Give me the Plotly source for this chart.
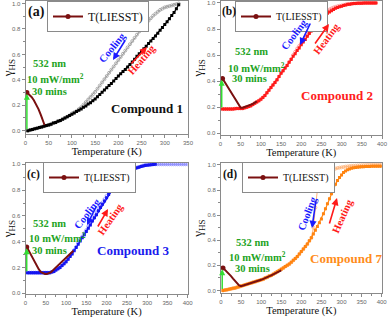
import plotly.graph_objects as go

# ---------------- data ----------------
# (a) Compound 1
a_heat_T = list(range(5, 335, 5))
a_heat_v = [0.0, 0.005, 0.01, 0.015, 0.02, 0.025, 0.03, 0.035, 0.04, 0.045,
            0.05, 0.06, 0.065, 0.075, 0.08, 0.09, 0.10, 0.11, 0.12, 0.13,
            0.14, 0.15, 0.16, 0.17, 0.185, 0.195, 0.21, 0.22, 0.235, 0.25,
            0.267, 0.285, 0.302, 0.32, 0.337, 0.355, 0.372, 0.39, 0.41, 0.43,
            0.447, 0.465, 0.482, 0.50, 0.52, 0.54, 0.562, 0.585, 0.605, 0.625,
            0.645, 0.665, 0.685, 0.705, 0.725, 0.745, 0.767, 0.79, 0.812, 0.835,
            0.857, 0.88, 0.905, 0.93, 0.96, 0.99]
a_cool_T = list(range(5, 335, 5))
a_cool_v = [0.0, 0.005, 0.01, 0.015, 0.02, 0.025, 0.03, 0.035, 0.04, 0.045,
            0.05, 0.06, 0.065, 0.075, 0.08, 0.09, 0.10, 0.11, 0.12, 0.135,
            0.145, 0.155, 0.17, 0.185, 0.205, 0.225, 0.245, 0.265, 0.285, 0.305,
            0.33, 0.355, 0.38, 0.405, 0.43, 0.455, 0.48, 0.505, 0.53, 0.555,
            0.58, 0.605, 0.63, 0.655, 0.68, 0.705, 0.73, 0.755, 0.78, 0.80,
            0.825, 0.845, 0.865, 0.885, 0.905, 0.92, 0.935, 0.95, 0.96, 0.97,
            0.975, 0.98, 0.985, 0.99, 0.995, 1.0]
a_lie_T = [3, 8, 13, 18, 23, 28, 33, 38, 41]
a_lie_v = [0.30, 0.285, 0.265, 0.24, 0.21, 0.17, 0.125, 0.075, 0.045]

# (b) Compound 2
b_heat_T = list(range(5, 390, 5))
b_heat_v = [0.185, 0.185, 0.185, 0.185, 0.185, 0.185, 0.188, 0.19, 0.19, 0.19,
            0.19, 0.195, 0.20, 0.205, 0.21, 0.22, 0.23, 0.24, 0.25, 0.26,
            0.275, 0.29, 0.31, 0.33, 0.35, 0.37, 0.39, 0.41, 0.435, 0.46,
            0.48, 0.50, 0.52, 0.545, 0.565, 0.59, 0.61, 0.635, 0.655, 0.68,
            0.70, 0.72, 0.745, 0.765, 0.785, 0.805, 0.825, 0.845, 0.86, 0.875,
            0.89, 0.905, 0.92, 0.93, 0.94, 0.95, 0.96, 0.965, 0.97, 0.975,
            0.98, 0.985, 0.99, 0.99, 0.993, 0.995, 0.996, 0.997, 0.998, 0.998,
            0.999, 0.999, 1.0, 1.0, 1.0, 1.0, 1.0]
b_cool_T = list(range(5, 390, 5))
b_cool_v = [0.185, 0.185, 0.185, 0.185, 0.185, 0.185, 0.188, 0.19, 0.19, 0.19,
            0.19, 0.195, 0.20, 0.205, 0.21, 0.22, 0.23, 0.24, 0.25, 0.26,
            0.275, 0.29, 0.31, 0.33, 0.35, 0.37, 0.39, 0.41, 0.435, 0.46,
            0.48, 0.50, 0.52, 0.545, 0.57, 0.60, 0.625, 0.65, 0.67, 0.69,
            0.715, 0.74, 0.765, 0.79, 0.81, 0.83, 0.85, 0.87, 0.885, 0.90,
            0.915, 0.93, 0.94, 0.95, 0.958, 0.965, 0.97, 0.975, 0.978, 0.98,
            0.985, 0.988, 0.99, 0.992, 0.994, 0.996, 0.997, 0.998, 0.998, 0.999,
            0.999, 1.0, 1.0, 1.0, 1.0, 1.0, 1.0]
b_lie_T = [5, 10, 15, 20, 25, 30, 35, 40, 45, 50, 55, 60, 65, 70, 75, 80, 85, 90]
b_lie_v = [0.42, 0.395, 0.37, 0.345, 0.32, 0.29, 0.265, 0.24, 0.215, 0.195,
           0.195, 0.20, 0.205, 0.21, 0.215, 0.225, 0.235, 0.245]

# (c) Compound 3
c_heat_T = list(range(5, 325, 5))
c_heat_v = [0.16, 0.16, 0.16, 0.16, 0.16, 0.16, 0.16, 0.16, 0.16, 0.16,
            0.16, 0.16, 0.165, 0.17, 0.18, 0.19, 0.20, 0.215, 0.23, 0.245,
            0.265, 0.285, 0.305, 0.33, 0.355, 0.38, 0.405, 0.43, 0.455, 0.48,
            0.505, 0.53, 0.56, 0.585, 0.61, 0.64, 0.665, 0.69, 0.715, 0.74,
            0.765, 0.79, 0.81, 0.83, 0.85, 0.87, 0.885, 0.90, 0.915, 0.93,
            0.94, 0.95, 0.96, 0.967, 0.973, 0.978, 0.983, 0.987, 0.99, 0.993,
            0.995, 0.997, 0.998, 1.0]
c_cool_T = list(range(5, 405, 5))
c_cool_v = [0.16, 0.16, 0.16, 0.16, 0.16, 0.16, 0.16, 0.16, 0.16, 0.16,
            0.16, 0.16, 0.165, 0.17, 0.18, 0.19, 0.20, 0.215, 0.23, 0.245,
            0.265, 0.29, 0.31, 0.335, 0.36, 0.39, 0.415, 0.44, 0.465, 0.49,
            0.52, 0.545, 0.575, 0.60, 0.63, 0.655, 0.68, 0.705, 0.73, 0.755,
            0.78, 0.80, 0.82, 0.84, 0.86, 0.875, 0.89, 0.905, 0.92, 0.935,
            0.945, 0.955, 0.965, 0.97, 0.975, 0.98, 0.985, 0.99, 0.995, 1.0,
            1.0, 1.0, 1.0, 1.0, 1.0, 1.0, 1.0, 1.0, 1.0, 1.0,
            1.0, 1.0, 1.0, 1.0, 1.0, 1.0, 1.0, 1.0, 1.0, 1.0]
c_lie_T = [3, 8, 13, 18, 23, 28, 33, 38, 43, 48, 53, 58, 63, 68, 73, 78,
           83, 88, 93, 98, 103, 108, 113, 118]
c_lie_v = [0.36, 0.33, 0.30, 0.27, 0.24, 0.21, 0.185, 0.165, 0.155, 0.15,
           0.15, 0.155, 0.165, 0.18, 0.195, 0.21, 0.225, 0.24, 0.255, 0.27,
           0.285, 0.30, 0.315, 0.33]

# (d) Compound 7
d_heat_T = list(range(5, 405, 5))
d_heat_v = [0.0, 0.003, 0.006, 0.01, 0.013, 0.017, 0.02, 0.025, 0.03, 0.035,
            0.04, 0.045, 0.05, 0.055, 0.06, 0.065, 0.07, 0.075, 0.08, 0.085,
            0.09, 0.10, 0.105, 0.115, 0.12, 0.13, 0.14, 0.15, 0.16, 0.17,
            0.18, 0.19, 0.20, 0.21, 0.225, 0.24, 0.255, 0.27, 0.29, 0.31,
            0.33, 0.35, 0.37, 0.395, 0.42, 0.45, 0.48, 0.51, 0.54, 0.57,
            0.61, 0.65, 0.69, 0.73, 0.77, 0.81, 0.845, 0.875, 0.90, 0.92,
            0.94, 0.952, 0.961, 0.968, 0.973, 0.977, 0.98, 0.982, 0.984, 0.985,
            0.986, 0.987, 0.988, 0.988, 0.989, 0.989, 0.99, 0.99, 0.99, 0.99]
d_cool_T = list(range(5, 405, 5))
d_cool_v = [0.0, 0.003, 0.006, 0.01, 0.013, 0.017, 0.02, 0.025, 0.03, 0.035,
            0.04, 0.045, 0.05, 0.055, 0.06, 0.065, 0.07, 0.075, 0.08, 0.085,
            0.09, 0.10, 0.105, 0.115, 0.12, 0.13, 0.14, 0.15, 0.16, 0.17,
            0.18, 0.19, 0.20, 0.21, 0.225, 0.24, 0.255, 0.27, 0.29, 0.31,
            0.33, 0.35, 0.37, 0.395, 0.42, 0.50, 0.66, 0.80, 0.86, 0.89,
            0.91, 0.93, 0.94, 0.95, 0.958, 0.965, 0.97, 0.975, 0.978, 0.98,
            0.983, 0.986, 0.988, 0.99, 0.992, 0.993, 0.994, 0.995, 0.996, 0.997,
            0.998, 0.998, 0.999, 0.999, 1.0, 1.0, 1.0, 1.0, 1.0, 1.0]
d_lie_T = [5, 10, 15, 20, 25, 30, 35, 40, 45, 50, 60, 75, 100, 125, 150]
d_lie_v = [0.18, 0.165, 0.15, 0.135, 0.115, 0.095, 0.075, 0.055, 0.04, 0.035,
           0.045, 0.06, 0.085, 0.12, 0.16]

panels = [
    dict(key="a", heat=(a_heat_T, a_heat_v), cool=(a_cool_T, a_cool_v), lie=(a_lie_T, a_lie_v),
         hc="#000000", cc="#9a9a9a", xmax=350, yr=[-0.026, 1.02], base=0.0),
    dict(key="b", heat=(b_heat_T, b_heat_v), cool=(b_cool_T, b_cool_v), lie=(b_lie_T, b_lie_v),
         hc="#ff1a1a", cc="#ff8a8a", xmax=400, yr=[-0.01, 1.015], base=0.185),
    dict(key="c", heat=(c_heat_T, c_heat_v), cool=(c_cool_T, c_cool_v), lie=(c_lie_T, c_lie_v),
         hc="#1414f0", cc="#8c8cff", xmax=400, yr=[-0.005, 1.01], base=0.16),
    dict(key="d", heat=(d_heat_T, d_heat_v), cool=(d_cool_T, d_cool_v), lie=(d_lie_T, d_lie_v),
         hc="#ff8410", cc="#ffb47a", xmax=400, yr=[-0.02, 1.015], base=0.0),
]

W, H = 388, 319
# pixel boxes of plot areas: (left, right, top, bottom)
boxes = [(25.5, 188, 1, 134), (220.5, 382, 1, 134.5), (25.5, 187.7, 163, 294), (221, 381.7, 163, 293)]

LIE = "#7a1010"
SERIF = "Liberation Serif"
SANS = "Liberation Sans"
fig = go.Figure()
layout = dict(width=W, height=H, margin=dict(l=0, r=0, t=0, b=0, autoexpand=False),
              paper_bgcolor="white", plot_bgcolor="white", showlegend=True,
              font=dict(family=SERIF))
annotations = []

for i, p in enumerate(panels):
    n = "" if i == 0 else str(i + 1)
    xa, ya = "x" + n, "y" + n
    lg = "legend" + n
    L, R, Tp, B = boxes[i]
    layout["xaxis" + n] = dict(domain=[L / W, R / W], range=[0, p["xmax"]], anchor=ya,
                               automargin=False,
                               showline=True, linecolor="#8a8a8a", linewidth=1, mirror=True,
                               ticks="outside", ticklen=3, tickcolor="#8a8a8a", dtick=50,
                               minor=dict(ticks="outside", ticklen=2, tickcolor="#8a8a8a", dtick=25),
                               showgrid=False, zeroline=False,
                               tickfont=dict(size=6, color="#666", family=SANS),
                               title=dict(text="Temperature (K)", standoff=0,
                                          font=dict(size=10.5, family=SERIF, color="#111")))
    layout["yaxis" + n] = dict(domain=[1 - B / H, 1 - Tp / H], range=p["yr"], anchor=xa,
                               automargin=False,
                               showline=True, linecolor="#8a8a8a", linewidth=1, mirror=True,
                               ticks="outside", ticklen=3, tickcolor="#8a8a8a", dtick=0.2,
                               tickformat=".1f",
                               minor=dict(ticks="outside", ticklen=2, tickcolor="#8a8a8a", dtick=0.1),
                               showgrid=False, zeroline=False,
                               tickfont=dict(size=6, color="#666", family=SANS),
                               title=dict(text="γ<sub>HS</sub>", standoff=1,
                                          font=dict(size=13, family=SERIF, color="#111")))
    fig.add_trace(go.Scatter(x=p["cool"][0], y=p["cool"][1], mode="lines+markers", xaxis=xa, yaxis=ya,
                             line=dict(color=p["cc"], width=1),
                             marker=dict(symbol="circle-open", size=3, color=p["cc"], line=dict(width=0.8)),
                             showlegend=False))
    fig.add_trace(go.Scatter(x=p["heat"][0], y=p["heat"][1], mode="lines+markers", xaxis=xa, yaxis=ya,
                             line=dict(color=p["hc"], width=1.2),
                             marker=dict(symbol="square", size=3, color=p["hc"]),
                             showlegend=False))
    fig.add_trace(go.Scatter(x=p["lie"][0], y=p["lie"][1], mode="lines", xaxis=xa, yaxis=ya,
                             line=dict(color=LIE, width=2), showlegend=False))
    fig.add_trace(go.Scatter(x=[p["lie"][0][0]], y=[p["lie"][1][0]], mode="lines+markers", xaxis=xa, yaxis=ya,
                             line=dict(color=LIE, width=2), marker=dict(size=5, color=LIE),
                             name="T(LIESST)", legend=lg, showlegend=True))
    lpos = [(47, 1), (235, 1), (43, 162), (242, 162)][i]
    lsize = 12 if i == 0 else 10
    layout[lg] = dict(x=lpos[0] / W, y=1 - lpos[1] / H, xanchor="left", yanchor="top",
                      bgcolor="white", bordercolor="#8a8a8a", borderwidth=1,
                      font=dict(size=lsize, family=SERIF, color="#111"),
                      itemwidth=30, tracegroupgap=0)
    annotations.append(dict(xref=xa, yref=ya, axref=xa, ayref=ya, x=3, y=p["lie"][1][0] - 0.01,
                            ax=3, ay=p["base"], showarrow=True, arrowhead=2, arrowsize=0.8,
                            arrowwidth=1.5, arrowcolor="#33dd33", text=""))
    annotations.append(dict(xref="paper", yref="paper", x=(L + (0.5 if i == 0 else -0.5)) / W,
                            y=1 - (Tp + 11) / H,
                            xanchor="left", yanchor="middle", showarrow=False,
                            text="<b>(%s)</b>" % p["key"],
                            font=dict(size=14 if i == 0 else 11.5, family=SERIF, color="#111")))

GREEN = "#23a323"
def ptext(x, y, text, color, size, angle=0):
    annotations.append(dict(xref="paper", yref="paper", x=x / W, y=1 - y / H, text=text,
                            showarrow=False, textangle=angle, xanchor="center", yanchor="middle",
                            font=dict(size=size, family=SERIF, color=color)))

def parrow(hx, hy, tx, ty, color):
    annotations.append(dict(xref="paper", yref="paper", x=hx / W, y=1 - hy / H,
                            ax=tx - hx, ay=ty - hy, showarrow=True, arrowhead=2, arrowsize=0.9,
                            arrowwidth=1.6, arrowcolor=color, text=""))

green_pos = [[(50, 64), (55, 79), (50, 91)], [(251, 52), (256, 67), (249, 79)],
             [(49, 223), (57, 237), (50, 250)], [(252, 242), (257, 256), (252, 268)]]
green_txt = ["<b>532 nm</b>", "<b>10 mW/mm<sup>2</sup></b>", "<b>30 mins</b>"]
for gp in green_pos:
    for (x, y), t in zip(gp, green_txt):
        ptext(x, y, t, GREEN, 10.5)

comp = [((147, 108), "Compound 1", "#111111"), ((337, 95), "Compound 2", "#ff2020"),
        ((133, 250), "Compound 3", "#1a1aee"), ((346, 258), "Compound 7", "#ff8c1a")]
for (x, y), t, c in comp:
    ptext(x, y, "<b>%s</b>" % t, c, 13)

cool_txt = [((112, 47), -51), ((294, 34), -53), ((87, 213), -52), ((307, 213), -69)]
heat_txt = [((142, 60), -49), ((327, 39), -53), ((110, 219), -55), ((342, 216), -66)]
for (x, y), a in cool_txt:
    ptext(x, y, "<b>Cooling</b>", "#1a1aff", 10.5, a)
for (x, y), a in heat_txt:
    ptext(x, y, "<b>Heating</b>", "#ff1a1a", 10.5, a)

blue_arrows = [((113, 60), (126, 39)), ((300, 45), (311, 22)), ((87, 225), (97, 205)), ((312, 228), (316, 200))]
red_arrows = [((147, 47), (130, 65)), ((329, 24), (314, 45)), ((108, 209), (97, 228)), ((337, 198), (329, 225))]
for h, t in blue_arrows:
    parrow(h[0], h[1], t[0], t[1], "#1a1aff")
for h, t in red_arrows:
    parrow(h[0], h[1], t[0], t[1], "#ff1a1a")

layout["annotations"] = annotations
fig.update_layout(**layout)
fig.write_html("out.html", config={"displayModeBar": False},
               post_script="document.body.style.margin='0px';document.body.style.overflow='hidden';")
